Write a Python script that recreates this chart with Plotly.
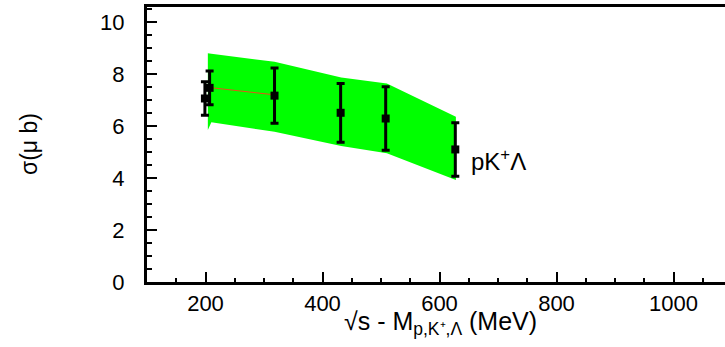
import plotly.graph_objects as go

# data points (sqrt(s) - threshold in MeV, cross section in microbarn)
pts_x = [199, 207, 318, 431, 508, 627]
pts_y = [7.06, 7.47, 7.17, 6.51, 6.29, 5.10]
pts_err = [0.64, 0.65, 1.06, 1.13, 1.22, 1.03]

# green uncertainty band
band_x = [204, 210, 318, 432, 510, 628]
band_upper = [8.80, 8.78, 8.47, 7.87, 7.64, 6.36]
band_lower = [5.85, 6.15, 5.78, 5.23, 4.95, 3.92]

# thin red curve
curve_x = [208, 318]
curve_y = [7.48, 7.20]

FONT = "Liberation Sans, Arial, Helvetica, sans-serif"

fig = go.Figure()
fig.add_trace(go.Scatter(
    x=band_x + band_x[::-1], y=band_upper + band_lower[::-1],
    fill="toself", fillcolor="#00ff00", line=dict(width=0, color="#00ff00"),
    mode="lines", hoverinfo="skip", showlegend=False))
fig.add_trace(go.Scatter(
    x=curve_x, y=curve_y, mode="lines",
    line=dict(color="#e8501a", width=1), showlegend=False))
fig.add_trace(go.Scatter(
    x=pts_x, y=pts_y, mode="markers",
    marker=dict(symbol="square", size=8, color="black"),
    error_y=dict(type="data", array=pts_err, color="black", thickness=3, width=4),
    showlegend=False))

fig.update_layout(
    template="none",
    width=725, height=347,
    margin=dict(l=147, r=0, t=7, b=65, autoexpand=False),
    paper_bgcolor="white", plot_bgcolor="white",
    font=dict(family=FONT, color="black", size=22),
    xaxis=dict(range=[100, 1088], tickvals=[200, 400, 600, 800, 1000],
               ticks="inside", ticklen=10, tickwidth=2, tickcolor="black",
               minor=dict(dtick=50, ticks="inside", ticklen=4, tickwidth=2, tickcolor="black"),
               showline=True, linecolor="black", linewidth=3, mirror=True,
               showgrid=False, zeroline=False, tickfont=dict(size=22), automargin=False),
    yaxis=dict(range=[0, 10.58], tickvals=[0, 2, 4, 6, 8, 10],
               ticks="inside", ticklen=10, tickwidth=2, tickcolor="black",
               minor=dict(dtick=0.5, ticks="inside", ticklen=5, tickwidth=2, tickcolor="black"),
               showline=True, linecolor="black", linewidth=3, mirror=True,
               showgrid=False, zeroline=False, tickfont=dict(size=22),
               ticklabelstandoff=15, automargin=False),
    annotations=[
        dict(text="√s - M<sub>p,K⁺,Λ</sub> (MeV)", xref="paper", yref="paper",
             x=0.507, y=0, yshift=-41, xanchor="center", yanchor="middle",
             showarrow=False, font=dict(size=25)),
        dict(text="σ(μ b)", xref="paper", yref="paper",
             x=-0.204, y=0.502, textangle=-90, xanchor="center", yanchor="middle",
             showarrow=False, font=dict(size=23)),
        dict(text="pK<sup>+</sup>Λ", xref="x", yref="y", x=651, y=4.7,
             xanchor="left", yanchor="middle", showarrow=False, font=dict(size=24)),
    ],
)

fig.write_html("out.html", config={"displayModeBar": False},
               post_script="document.body.style.margin='0';document.body.style.overflow='hidden';")
